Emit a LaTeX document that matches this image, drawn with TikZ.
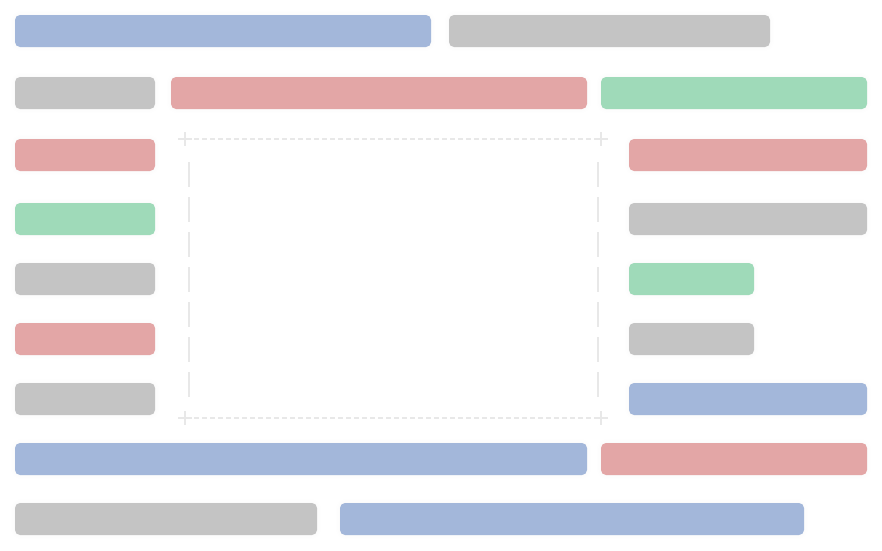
\documentclass[tikz,border=0pt]{standalone}
\usetikzlibrary{shadows.blur}
\definecolor{barblue}{HTML}{A3B7DA}
\definecolor{bargray}{HTML}{C4C4C4}
\definecolor{barred}{HTML}{E3A6A6}
\definecolor{bargreen}{HTML}{9FDAB9}
\definecolor{framegray}{HTML}{E8E8E8}
\tikzset{
	bar/.style={rectangle, rounded corners=5pt, inner sep=0pt, outer sep=0pt,
		minimum height=32pt, anchor=north west,
		blur shadow={shadow xshift=0pt, shadow yshift=0pt, shadow blur radius=4pt, shadow opacity=4}},
	frameline/.style={draw=framegray, line width=2pt},
}
\begin{document}
\begin{tikzpicture}[x=1pt,y=-1pt]
	\useasboundingbox (0,0) rectangle (882,550);
	% Top rows
	\node[bar, fill=barblue, minimum width=416pt] (topA) at (15,15) {};
	\node[bar, fill=bargray, minimum width=321pt] (topB) at (449,15) {};
	\node[bar, fill=barred, minimum width=416pt] (midA) at (171,77) {};
	\node[bar, fill=bargreen, minimum width=266pt] (midB) at (601,77) {};
	% Left column
	\foreach \y/\c [count=\i] in {77/bargray,139/barred,203/bargreen,263/bargray,323/barred,383/bargray}{
		\node[bar, fill=\c, minimum width=140pt] (left\i) at (15,\y) {};
	}
	% Right column
	\foreach \y/\c/\w [count=\i] in {139/barred/238,203/bargray/238,263/bargreen/125,323/bargray/125,383/barblue/238}{
		\node[bar, fill=\c, minimum width=\w pt] (right\i) at (629,\y) {};
	}
	% Bottom rows
	\node[bar, fill=barblue, minimum width=572pt] (botA) at (15,443) {};
	\node[bar, fill=barred, minimum width=266pt] (botB) at (601,443) {};
	\node[bar, fill=bargray, minimum width=302pt] (lastA) at (15,503) {};
	\node[bar, fill=barblue, minimum width=464pt] (lastB) at (340,503) {};
	% Empty frame
	\coordinate (fNW) at (185,139);
	\coordinate (fNE) at (601,139);
	\coordinate (fSW) at (185,418);
	\coordinate (fSE) at (601,418);
	\draw[frameline, dash pattern=on 5pt off 3pt] (194,139) -- (594,139);
	\draw[frameline, dash pattern=on 5pt off 3pt] (194,418) -- (594,418);
	\draw[frameline, dash pattern=on 25pt off 10pt] (189,162) -- (189,397);
	\draw[frameline, dash pattern=on 25pt off 10pt] (598,162) -- (598,397);
	\foreach \p in {fNW,fNE,fSW,fSE}{
		\draw[frameline, line width=2.6pt] (\p) ++(-7,0) -- ++(14,0);
		\draw[frameline, line width=2.6pt] (\p) ++(0,-7) -- ++(0,14);
	}
\end{tikzpicture}
\end{document}
